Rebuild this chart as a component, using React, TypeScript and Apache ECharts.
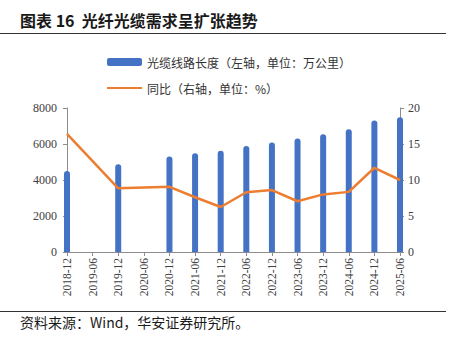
import React, { useEffect, useRef } from "react";
import * as echarts from "echarts";

const categories = [
  "2018-12", "2019-06", "2019-12", "2020-06", "2020-12", "2021-06", "2021-12",
  "2022-06", "2022-12", "2023-06", "2023-12", "2024-06", "2024-12", "2025-06",
];
const lengthValues: (number | null)[] = [
  4500, null, 4870, null, 5300, 5490, 5620, 5890, 6080, 6300, 6540, 6820, 7300, 7490,
];
const yoyValues: (number | null)[] = [
  16.4, null, 8.85, null, 9.05, 7.6, 6.25, 8.3, 8.6, 7.05, 8.0, 8.35, 11.7, 10.0,
];
const leftTicks = { min: 0, max: 8000, interval: 2000 };
const rightTicks = { min: 0, max: 20, interval: 5 };
const barName = "光缆线路长度（左轴，单位：万公里）";
const lineName = "同比（右轴，单位：%）";
const titleText = "图表 16  光纤光缆需求呈扩张趋势";
const sourceText = "资料来源：Wind，华安证券研究所。";

export default function App() {
  const ref = useRef<HTMLDivElement>(null);
  useEffect(() => {
    document.body.style.margin = "0";
    const chart = echarts.init(ref.current!, null, { renderer: "svg" });
    const serif = "'Liberation Serif', 'Times New Roman', serif";
    const cjk = "'Noto Sans CJK SC', sans-serif";
    chart.setOption({
      animation: false,
      backgroundColor: "#ffffff",
      grid: { left: 67, right: 57, top: 108, bottom: 87, containLabel: false },
      legend: {
        orient: "vertical",
        left: 101,
        top: 51,
        itemWidth: 35,
        itemHeight: 8,
        itemGap: 14,
        textStyle: { fontFamily: cjk, fontSize: 12, color: "#333" },
        data: [
          { name: barName, icon: "roundRect" },
          { name: lineName, itemStyle: { opacity: 0 } },
        ],
      },
      xAxis: {
        type: "category",
        data: categories,
        boundaryGap: false,
        axisLine: { lineStyle: { color: "#8c8c8c" } },
        axisTick: { alignWithLabel: true, length: 4, lineStyle: { color: "#8c8c8c" } },
        axisLabel: {
          rotate: 90,
          interval: 0,
          margin: 6,
          fontFamily: serif,
          fontSize: 11.5,
          color: "#404040",
        },
      },
      yAxis: [
        {
          type: "value",
          ...leftTicks,
          splitLine: { show: false },
          axisLine: { show: true, lineStyle: { color: "#8c8c8c" } },
          axisTick: { show: true, length: 4, lineStyle: { color: "#8c8c8c" } },
          axisLabel: {
            fontFamily: serif,
            fontSize: 12,
            color: "#404040",
            margin: 10,
            formatter: (v: number) => String(v),
          },
        },
        {
          type: "value",
          ...rightTicks,
          position: "right",
          splitLine: { show: false },
          axisLine: { show: true, lineStyle: { color: "#8c8c8c" } },
          axisTick: { show: true, length: 4, lineStyle: { color: "#8c8c8c" } },
          axisLabel: {
            fontFamily: serif,
            fontSize: 12,
            color: "#404040",
            margin: 8,
            formatter: (v: number) => String(v),
          },
        },
      ],
      series: [
        {
          name: barName,
          type: "bar",
          data: lengthValues,
          barWidth: 6,
          yAxisIndex: 0,
          itemStyle: { color: "#4472C4", borderRadius: [3, 3, 0, 0] },
        },
        {
          name: lineName,
          type: "line",
          data: yoyValues,
          yAxisIndex: 1,
          connectNulls: true,
          symbol: "none",
          lineStyle: { color: "#ED7D31", width: 2.5 },
          itemStyle: { color: "#ED7D31" },
        },
      ],
      graphic: [
        {
          type: "text",
          left: 20,
          top: 12,
          style: {
            text: titleText,
            font: `bold 16px ${cjk}`,
            fill: "#1a1a1a",
          },
        },
        {
          type: "line",
          shape: { x1: 0, y1: 33.5, x2: 446, y2: 33.5 },
          style: { stroke: "#333", lineWidth: 1 },
        },
        {
          type: "line",
          shape: { x1: 0, y1: 311.5, x2: 446, y2: 311.5 },
          style: { stroke: "#333", lineWidth: 1 },
        },
        {
          type: "text",
          left: 20,
          top: 315,
          style: {
            text: sourceText,
            font: `14px ${cjk}`,
            fill: "#1a1a1a",
          },
        },
      ],
    });
    return () => chart.dispose();
  }, []);
  return <div ref={ref} style={{ width: 457, height: 339 }} />;
}
